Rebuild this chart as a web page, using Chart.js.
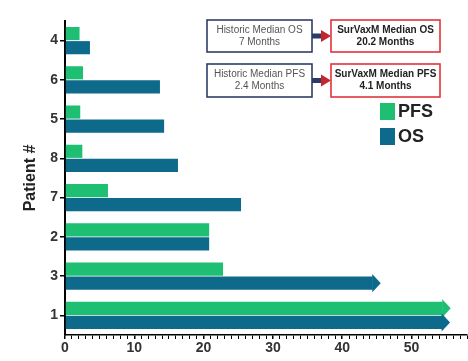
<!DOCTYPE html>
<html>
<head>
<meta charset="utf-8">
<script src="https://cdn.jsdelivr.net/npm/chart.js@4"></script>
<style>
  html, body { margin: 0; padding: 0; background: #ffffff; }
  #wrap { width: 468px; height: 361px; }
</style>
</head>
<body>
<div id="wrap"><canvas id="c" width="468" height="361"></canvas></div>
<script>
// Patients listed top to bottom, survival in months
const patients = ['4', '6', '5', '8', '7', '2', '3', '1'];
const pfsMonths = [2.1, 2.6, 2.2, 2.5, 6.2, 20.8, 22.8, 54.5];
const osMonths = [3.6, 13.7, 14.3, 16.3, 25.4, 20.8, 44.4, 54.4];
// Still ongoing at data cut-off (drawn with an arrow head)
const pfsOngoing = [false, false, false, false, false, false, false, true];
const osOngoing = [false, false, false, false, false, false, true, true];
const xTickLabels = [0, 10, 20, 30, 40, 50];
const historicText = [['Historic Median OS', '7 Months'], ['Historic Median PFS', '2.4 Months']];
const survaxmText = [['SurVaxM Median OS', '20.2 Months'], ['SurVaxM Median PFS', '4.1 Months']];

const GREEN = '#1ebf72';
const BLUE = '#0e6a8b';
const TEXT = '#333333';

// Arrow heads on bars of patients still event-free
const arrowHeads = {
  id: 'arrowHeads',
  afterDatasetsDraw(chart) {
    const ctx = chart.ctx;
    chart.data.datasets.forEach((ds, di) => {
      const meta = chart.getDatasetMeta(di);
      meta.data.forEach((bar, i) => {
        if (!ds.ongoing[i]) return;
        const h = bar.height;
        ctx.save();
        ctx.fillStyle = ds.backgroundColor;
        ctx.beginPath();
        ctx.moveTo(bar.x - 0.5, bar.y - h / 2 - 2.5);
        ctx.lineTo(bar.x + 8, bar.y);
        ctx.lineTo(bar.x - 0.5, bar.y + h / 2 + 2.5);
        ctx.closePath();
        ctx.fill();
        ctx.restore();
      });
    });
  }
};

// Median comparison boxes and the legend
const annotations = {
  id: 'annotations',
  afterDraw(chart) {
    const ctx = chart.ctx;
    ctx.save();
    const rows = [{ top: 20, bottom: 52 }, { top: 64, bottom: 97 }];
    rows.forEach((r, k) => {
      const cy = (r.top + r.bottom) / 2;
      // historic box
      ctx.fillStyle = '#ffffff';
      ctx.fillRect(207, r.top, 105, r.bottom - r.top);
      ctx.lineWidth = 1.6;
      ctx.strokeStyle = '#2f3c6a';
      ctx.strokeRect(207, r.top, 105, r.bottom - r.top);
      ctx.fillStyle = '#555555';
      ctx.font = '10px "Liberation Sans", Arial, sans-serif';
      ctx.textAlign = 'center';
      ctx.textBaseline = 'middle';
      ctx.fillText(historicText[k][0], 259.5, cy - 6);
      ctx.fillText(historicText[k][1], 259.5, cy + 6);
      // connecting arrow
      ctx.fillStyle = '#2b3a66';
      ctx.fillRect(312, cy - 2.5, 10, 5);
      ctx.fillStyle = '#c3262f';
      ctx.beginPath();
      ctx.moveTo(321, cy - 6);
      ctx.lineTo(331, cy);
      ctx.lineTo(321, cy + 6);
      ctx.closePath();
      ctx.fill();
      // SurVaxM box
      ctx.fillStyle = '#ffffff';
      ctx.fillRect(331, r.top, 109, r.bottom - r.top);
      ctx.strokeStyle = '#e2323d';
      ctx.strokeRect(331, r.top, 109, r.bottom - r.top);
      ctx.fillStyle = '#222222';
      ctx.font = 'bold 10px "Liberation Sans", Arial, sans-serif';
      ctx.fillText(survaxmText[k][0], 385.5, cy - 6);
      ctx.fillText(survaxmText[k][1], 385.5, cy + 6);
    });
    // legend
    const legendRows = [{ y: 103, label: chart.data.datasets[0].label, color: GREEN },
                        { y: 128, label: chart.data.datasets[1].label, color: BLUE }];
    legendRows.forEach(l => {
      ctx.fillStyle = l.color;
      ctx.fillRect(380, l.y, 15, 17);
      ctx.fillStyle = '#222222';
      ctx.font = 'bold 18px "Liberation Sans", Arial, sans-serif';
      ctx.textAlign = 'left';
      ctx.textBaseline = 'middle';
      ctx.fillText(l.label, 398, l.y + 9);
    });
    ctx.restore();
  }
};

new Chart(document.getElementById('c'), {
  type: 'bar',
  data: {
    labels: patients,
    datasets: [
      { label: 'PFS', data: pfsMonths, ongoing: pfsOngoing, backgroundColor: GREEN,
        categoryPercentage: 0.72, barPercentage: 0.93 },
      { label: 'OS', data: osMonths, ongoing: osOngoing, backgroundColor: BLUE,
        categoryPercentage: 0.72, barPercentage: 0.93 }
    ]
  },
  options: {
    indexAxis: 'y',
    responsive: false,
    animation: false,
    layout: { padding: { top: 21, left: 0, right: 0, bottom: 0 } },
    plugins: { legend: { display: false }, tooltip: { enabled: false } },
    scales: {
      x: {
        min: 0,
        max: 58,
        afterFit(scale) { scale.height = 26; },
        grid: { display: true, drawOnChartArea: false, drawTicks: true, tickLength: 4,
                color: '#000000',
                lineWidth: ctx => (ctx.tick && xTickLabels.includes(ctx.tick.value)) ? 1.5 : 1 },
        border: { display: true, color: '#000000', width: 1.5 },
        ticks: {
          stepSize: 1,
          autoSkip: false,
          maxRotation: 0,
          padding: 1,
          color: TEXT,
          font: { family: '"Liberation Sans", Arial, sans-serif', size: 14, weight: 'bold' },
          callback: v => xTickLabels.includes(v) ? String(v) : ''
        }
      },
      y: {
        afterFit(scale) { scale.width = 65; },
        grid: { display: true, drawOnChartArea: false, offset: false, tickLength: 5, color: '#000000', lineWidth: 1.5 },
        border: { display: true, color: '#000000', width: 2 },
        ticks: {
          padding: 2,
          color: TEXT,
          font: { family: '"Liberation Sans", Arial, sans-serif', size: 14, weight: 'bold' }
        },
        title: {
          display: true,
          text: 'Patient #',
          color: '#222222',
          padding: { top: 21, bottom: 0 },
          font: { family: '"Liberation Sans", Arial, sans-serif', size: 16, weight: 'bold' }
        }
      }
    }
  },
  plugins: [arrowHeads, annotations]
});
</script>
</body>
</html>
